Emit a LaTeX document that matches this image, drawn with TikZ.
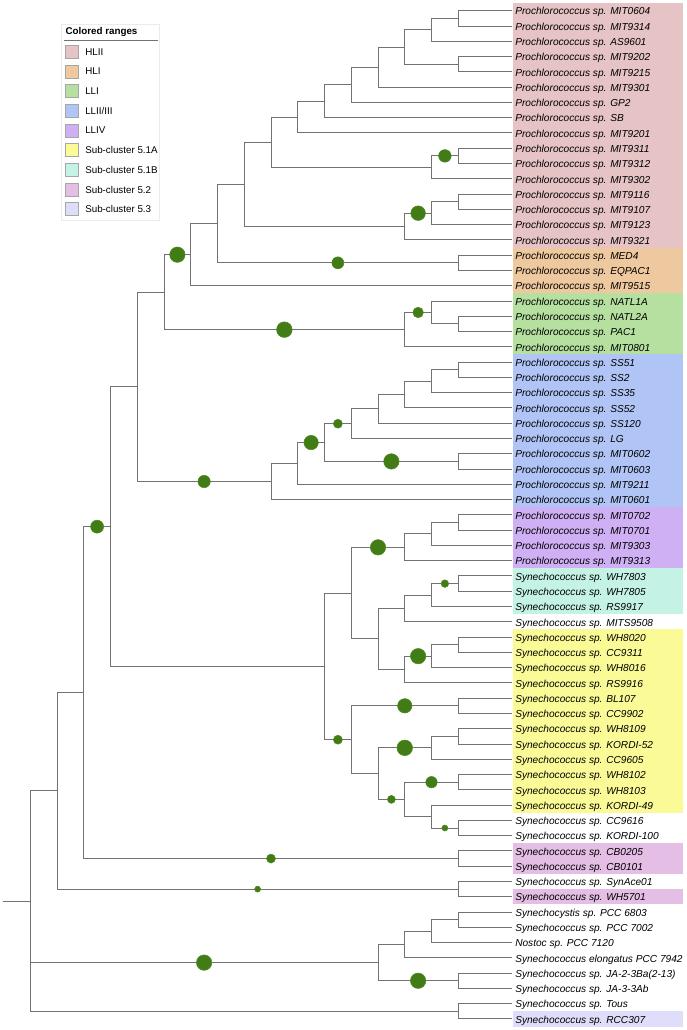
\documentclass[tikz,border=0pt]{standalone}
\usepackage{fontspec}
\setmainfont{Liberation Sans}
\usetikzlibrary{calc}
\definecolor{treegray}{RGB}{115,115,115}
\definecolor{supfill}{RGB}{66,124,22}
\definecolor{supdraw}{RGB}{80,138,36}
\definecolor{cHLII}{RGB}{230,195,197}
\definecolor{cHLI}{RGB}{238,200,158}
\definecolor{cLLI}{RGB}{181,224,160}
\definecolor{cLLII}{RGB}{176,196,245}
\definecolor{cLLIV}{RGB}{208,176,245}
\definecolor{cSA}{RGB}{250,250,150}
\definecolor{cSB}{RGB}{196,242,228}
\definecolor{cStwo}{RGB}{228,190,228}
\definecolor{cSthree}{RGB}{222,222,250}
\newcommand\lf[2]{%
  \coordinate (t#1) at (511.75,{10.8+(#1-1)*15.275});
  \node[leaflab] (L#1) at (515,{10.8+(#1-1)*15.275+4.2}) {#2};}
\newcommand\inode[4]{%
  \coordinate (#1m) at ($(#3)!0.5!(#4)$);
  \coordinate (#1) at (lev#2 |- #1m);
  \draw[branch] (#3) -- (#1 |- #3) -- (#1 |- #4) -- (#4);}
\newcommand\bsup[4]{%
  \coordinate (#1a) at (#2 |- #3);
  \node[supc=#4] (#1) at ($(#1a)!0.5!(#3)$) {};}
\newcommand\rng[3]{%
  \fill[#1] (512.5,{10.8+(#2-1)*15.275-7.64}) rectangle (683,{10.8+(#3-1)*15.275+7.64});}
\begin{document}
\begin{tikzpicture}[x=0.75pt,y=-0.75pt,
  branch/.style={draw=treegray, line width=0.75pt, line cap=rect},
  leaflab/.style={anchor=base west, inner sep=0pt, font=\fontsize{7.6}{9}\selectfont\itshape, text=black},
  supc/.style={circle, fill=supfill, draw=supdraw, line width=0.4pt, inner sep=0pt, minimum size=#1*1.5pt},
  swatch/.style={draw=black!35, line width=0.5pt, minimum size=9.75pt, inner sep=0pt},
  leglab/.style={anchor=west, inner sep=0pt, font=\fontsize{7.35}{9}\selectfont},
  ]
\useasboundingbox (0,0) rectangle (686,1030);
\fill[white] (0,0) rectangle (686,1030);
% colored ranges
\rng{cHLII}{1}{16}
\rng{cHLI}{17}{19}
\rng{cLLI}{20}{23}
\rng{cLLII}{24}{33}
\rng{cLLIV}{34}{37}
\rng{cSB}{38}{40}
\rng{cSA}{42}{53}
\rng{cStwo}{56}{57}
\rng{cStwo}{59}{59}
\rng{cSthree}{67}{67}
% legend
\draw[draw=black!8, fill=white, line width=0.5pt] (61.7,24) rectangle (159.3,220.7);
\node[anchor=west, inner sep=0pt, font=\fontsize{7.35}{9}\selectfont\bfseries] (legt) at (65.3,32) {Colored ranges};
\draw[black!55, line width=0.6pt] (63.7,40.7) -- (157.7,40.7);
\foreach \c/\t [count=\i from 0] in {cHLII/HLII, cHLI/HLI, cLLI/LLI, cLLII/LLII\slash III, cLLIV/LLIV, cSA/Sub-cluster 5.1A, cSB/Sub-cluster 5.1B, cStwo/Sub-cluster 5.2, cSthree/Sub-cluster 5.3}{
  \node[swatch, fill=\c] (sw\i) at (71.7,{51.7+19.7*\i}) {};
  \node[leglab] (lg\i) at (85,{51.7+19.7*\i}) {\t};
}
% levels
\foreach \k in {0,...,19} {\coordinate (lev\k) at ({3.5+26.75*\k},0);}
% leaves
\lf{1}{Prochlorococcus sp. MIT0604}
\lf{2}{Prochlorococcus sp. MIT9314}
\lf{3}{Prochlorococcus sp. AS9601}
\lf{4}{Prochlorococcus sp. MIT9202}
\lf{5}{Prochlorococcus sp. MIT9215}
\lf{6}{Prochlorococcus sp. MIT9301}
\lf{7}{Prochlorococcus sp. GP2}
\lf{8}{Prochlorococcus sp. SB}
\lf{9}{Prochlorococcus sp. MIT9201}
\lf{10}{Prochlorococcus sp. MIT9311}
\lf{11}{Prochlorococcus sp. MIT9312}
\lf{12}{Prochlorococcus sp. MIT9302}
\lf{13}{Prochlorococcus sp. MIT9116}
\lf{14}{Prochlorococcus sp. MIT9107}
\lf{15}{Prochlorococcus sp. MIT9123}
\lf{16}{Prochlorococcus sp. MIT9321}
\lf{17}{Prochlorococcus sp. MED4}
\lf{18}{Prochlorococcus sp. EQPAC1}
\lf{19}{Prochlorococcus sp. MIT9515}
\lf{20}{Prochlorococcus sp. NATL1A}
\lf{21}{Prochlorococcus sp. NATL2A}
\lf{22}{Prochlorococcus sp. PAC1}
\lf{23}{Prochlorococcus sp. MIT0801}
\lf{24}{Prochlorococcus sp. SS51}
\lf{25}{Prochlorococcus sp. SS2}
\lf{26}{Prochlorococcus sp. SS35}
\lf{27}{Prochlorococcus sp. SS52}
\lf{28}{Prochlorococcus sp. SS120}
\lf{29}{Prochlorococcus sp. LG}
\lf{30}{Prochlorococcus sp. MIT0602}
\lf{31}{Prochlorococcus sp. MIT0603}
\lf{32}{Prochlorococcus sp. MIT9211}
\lf{33}{Prochlorococcus sp. MIT0601}
\lf{34}{Prochlorococcus sp. MIT0702}
\lf{35}{Prochlorococcus sp. MIT0701}
\lf{36}{Prochlorococcus sp. MIT9303}
\lf{37}{Prochlorococcus sp. MIT9313}
\lf{38}{Synechococcus sp. WH7803}
\lf{39}{Synechococcus sp. WH7805}
\lf{40}{Synechococcus sp. RS9917}
\lf{41}{Synechococcus sp. MITS9508}
\lf{42}{Synechococcus sp. WH8020}
\lf{43}{Synechococcus sp. CC9311}
\lf{44}{Synechococcus sp. WH8016}
\lf{45}{Synechococcus sp. RS9916}
\lf{46}{Synechococcus sp. BL107}
\lf{47}{Synechococcus sp. CC9902}
\lf{48}{Synechococcus sp. WH8109}
\lf{49}{Synechococcus sp. KORDI-52}
\lf{50}{Synechococcus sp. CC9605}
\lf{51}{Synechococcus sp. WH8102}
\lf{52}{Synechococcus sp. WH8103}
\lf{53}{Synechococcus sp. KORDI-49}
\lf{54}{Synechococcus sp. CC9616}
\lf{55}{Synechococcus sp. KORDI-100}
\lf{56}{Synechococcus sp. CB0205}
\lf{57}{Synechococcus sp. CB0101}
\lf{58}{Synechococcus sp. SynAce01}
\lf{59}{Synechococcus sp. WH5701}
\lf{60}{Synechocystis sp. PCC 6803}
\lf{61}{Synechococcus sp. PCC 7002}
\lf{62}{Nostoc sp. PCC 7120}
\lf{63}{Synechococcus elongatus PCC 7942}
\lf{64}{Synechococcus sp. JA-2-3Ba(2-13)}
\lf{65}{Synechococcus sp. JA-3-3Ab}
\lf{66}{Synechococcus sp. Tous}
\lf{67}{Synechococcus sp. RCC307}
% internal nodes
\inode{A1}{17}{t1}{t2}
\inode{A2}{16}{A1}{t3}
\inode{A3}{17}{t4}{t5}
\inode{A4}{15}{A2}{A3}
\inode{A5}{14}{A4}{t6}
\inode{A6}{13}{A5}{t7}
\inode{A7}{12}{A6}{t8}
\inode{A8}{11}{A7}{t9}
\inode{B1}{17}{t10}{t11}
\inode{B}{16}{B1}{t12}
\inode{A9}{10}{A8}{B}
\inode{C2}{17}{t13}{t14}
\inode{C1}{16}{C2}{t15}
\inode{C}{15}{C1}{t16}
\inode{A10}{9}{A9}{C}
\inode{F}{17}{t17}{t18}
\inode{D}{8}{A10}{F}
\inode{E}{7}{D}{t19}
\inode{H2}{17}{t21}{t22}
\inode{H1}{16}{t20}{H2}
\inode{H}{15}{H1}{t23}
\inode{G}{6}{E}{H}
\inode{I8}{17}{t24}{t25}
\inode{I7}{16}{I8}{t26}
\inode{I6}{15}{I7}{t27}
\inode{I5}{14}{I6}{t28}
\inode{I3}{13}{I5}{t29}
\inode{I4}{17}{t30}{t31}
\inode{I2}{12}{I3}{I4}
\inode{I1}{11}{I2}{t32}
\inode{In}{10}{I1}{t33}
\inode{Kn}{5}{G}{In}
\inode{N2}{17}{t34}{t35}
\inode{N1}{16}{N2}{t36}
\inode{N}{15}{N1}{t37}
\inode{O4}{17}{t38}{t39}
\inode{O3}{16}{O4}{t40}
\inode{O1}{15}{O3}{t41}
\inode{O6}{17}{t42}{t43}
\inode{O5}{16}{O6}{t44}
\inode{O2}{15}{O5}{t45}
\inode{O}{14}{O1}{O2}
\inode{M1}{13}{N}{O}
\inode{P}{17}{t46}{t47}
\inode{Q3}{17}{t48}{t49}
\inode{Q1}{16}{Q3}{t50}
\inode{Q4}{17}{t51}{t52}
\inode{Q6}{17}{t54}{t55}
\inode{Q5}{16}{t53}{Q6}
\inode{Q2}{15}{Q4}{Q5}
\inode{Q}{14}{Q1}{Q2}
\inode{M2}{13}{P}{Q}
\inode{M}{12}{M1}{M2}
\inode{J}{4}{Kn}{M}
\inode{R}{17}{t56}{t57}
\inode{S}{3}{J}{R}
\inode{U}{17}{t58}{t59}
\inode{T}{2}{S}{U}
\inode{V4}{17}{t60}{t61}
\inode{V3}{16}{V4}{t62}
\inode{V1}{15}{V3}{t63}
\inode{V2}{17}{t64}{t65}
\inode{V}{14}{V1}{V2}
\inode{W}{17}{t66}{t67}
\inode{Root}{1}{T}{W}
\draw[branch] (Root |- V) -- (V);
\draw[branch] (lev0 |- Root) -- (Root);
% support circles
\bsup{s1}{B}{B1}{6.3}
\bsup{s2}{C}{C1}{7.3}
\bsup{s3}{D}{F}{6}
\bsup{s4}{G}{E}{7.7}
\bsup{s5}{G}{H}{7.8}
\bsup{s6}{H}{H1}{5.3}
\bsup{s7}{Kn}{In}{6.2}
\bsup{s8}{I1}{I2}{7.2}
\bsup{s9}{I2}{I3}{4.5}
\bsup{s10}{I2}{I4}{7.7}
\bsup{s11}{S}{J}{6.5}
\bsup{s12}{M1}{N}{7.7}
\bsup{s13}{O3}{O4}{3.8}
\bsup{s14}{O2}{O5}{7.7}
\bsup{s15}{M2}{P}{7.2}
\bsup{s16}{M}{M2}{4.5}
\bsup{s17}{Q}{Q1}{7.8}
\bsup{s18}{Q}{Q2}{4}
\bsup{s19}{Q2}{Q4}{5.7}
\bsup{s20}{Q5}{Q6}{3}
\bsup{s21}{S}{R}{4.5}
\bsup{s22}{T}{U}{3}
\bsup{s23}{Root}{V}{7.7}
\bsup{s24}{V}{V2}{7.7}
\end{tikzpicture}
\end{document}
